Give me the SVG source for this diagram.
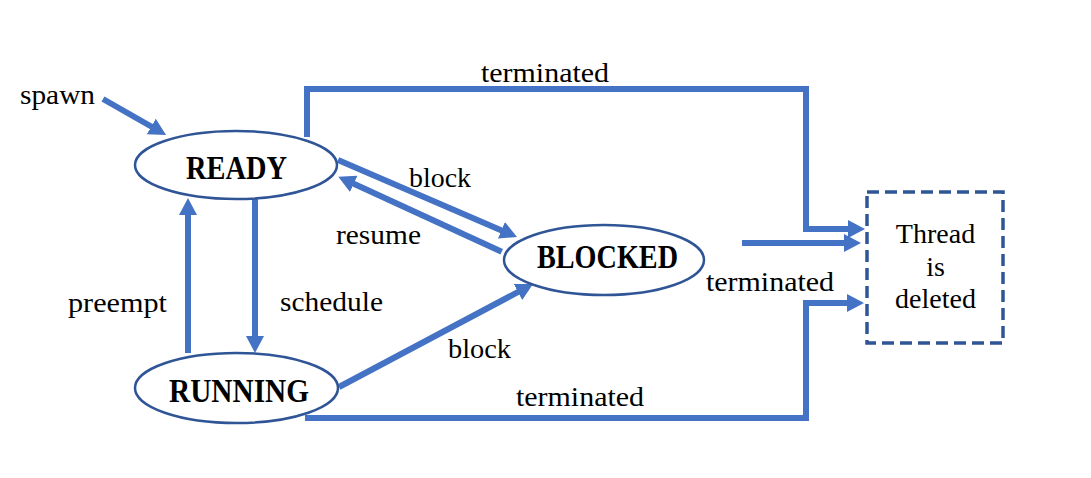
<svg xmlns="http://www.w3.org/2000/svg" width="1091" height="478" viewBox="0 0 1091 478">
<style>
.bg{fill:#ffffff}
.state{fill:#ffffff;stroke:#2F5597;stroke-width:2.5}
.box{fill:#ffffff;stroke:#2F5597;stroke-width:3.5;stroke-dasharray:12 6}
.conn{fill:none;stroke:#4472C4;stroke-width:6;stroke-linejoin:miter;stroke-linecap:butt}
.arrow{marker-end:url(#ah)}
.nlabel{font-family:"Liberation Serif","Times New Roman",serif;font-weight:bold;font-size:34px;fill:#000000;text-anchor:middle}
.lbl{font-family:"Liberation Serif","Times New Roman",serif;font-size:28px;fill:#000000}
.blbl{font-family:"Liberation Serif","Times New Roman",serif;font-size:28px;fill:#000000;text-anchor:middle}
</style>
<defs>
<marker id="ah" markerUnits="userSpaceOnUse" markerWidth="18" markerHeight="18" refX="6" refY="9" orient="auto" viewBox="0 0 18 18">
<path d="M0,0 L17,9 L0,18 z" fill="#4472C4"/>
</marker>
</defs>
<rect class="bg" x="0" y="0" width="1091" height="478"/>
<g id="connectors">
<line class="conn arrow" x1="103" y1="99" x2="156.5" y2="129.5"/>
<line class="conn arrow" x1="338" y1="160" x2="506.9" y2="232.7"/>
<line class="conn arrow" x1="501.7" y1="251.7" x2="348.3" y2="181.3"/>
<line class="conn arrow" x1="255" y1="197" x2="255" y2="342"/>
<line class="conn arrow" x1="188" y1="353" x2="188" y2="209"/>
<line class="conn arrow" x1="339" y1="387" x2="523.3" y2="289.2"/>
<polyline class="conn arrow" points="307,137 307,89 806,89 806,229 854,229"/>
<line class="conn arrow" x1="742" y1="243" x2="850" y2="243"/>
<polyline class="conn arrow" points="305,418 806,418 806,303 853,303"/>
<text class="lbl" x="20" y="104" textLength="75" lengthAdjust="spacingAndGlyphs">spawn</text>
<text class="lbl" x="481" y="82" textLength="128" lengthAdjust="spacingAndGlyphs">terminated</text>
<text class="lbl" x="409" y="187" textLength="62" lengthAdjust="spacingAndGlyphs">block</text>
<text class="lbl" x="336" y="244" textLength="85" lengthAdjust="spacingAndGlyphs">resume</text>
<text class="lbl" x="68" y="312" textLength="99" lengthAdjust="spacingAndGlyphs">preempt</text>
<text class="lbl" x="280" y="311" textLength="103" lengthAdjust="spacingAndGlyphs">schedule</text>
<text class="lbl" x="448" y="358" textLength="63" lengthAdjust="spacingAndGlyphs">block</text>
<text class="lbl" x="706" y="291" textLength="128" lengthAdjust="spacingAndGlyphs">terminated</text>
<text class="lbl" x="516" y="406" textLength="128" lengthAdjust="spacingAndGlyphs">terminated</text>
</g>
<g id="ready">
<ellipse class="state" cx="236" cy="165" rx="101" ry="34"/>
<text class="nlabel" x="236.5" y="179" textLength="101" lengthAdjust="spacingAndGlyphs">READY</text>
</g>
<g id="blocked">
<ellipse class="state" cx="604" cy="260" rx="100" ry="35"/>
<text class="nlabel" x="607.5" y="268" textLength="141" lengthAdjust="spacingAndGlyphs">BLOCKED</text>
</g>
<g id="running">
<ellipse class="state" cx="236.5" cy="388" rx="101.5" ry="35"/>
<text class="nlabel" x="239" y="402" textLength="140" lengthAdjust="spacingAndGlyphs">RUNNING</text>
</g>
<g id="deleted">
<rect class="box" x="867" y="192" width="136" height="151"/>
<text class="blbl" x="935.5" y="243">Thread</text>
<text class="blbl" x="935.5" y="276">is</text>
<text class="blbl" x="935.5" y="308">deleted</text>
</g>
</svg>
